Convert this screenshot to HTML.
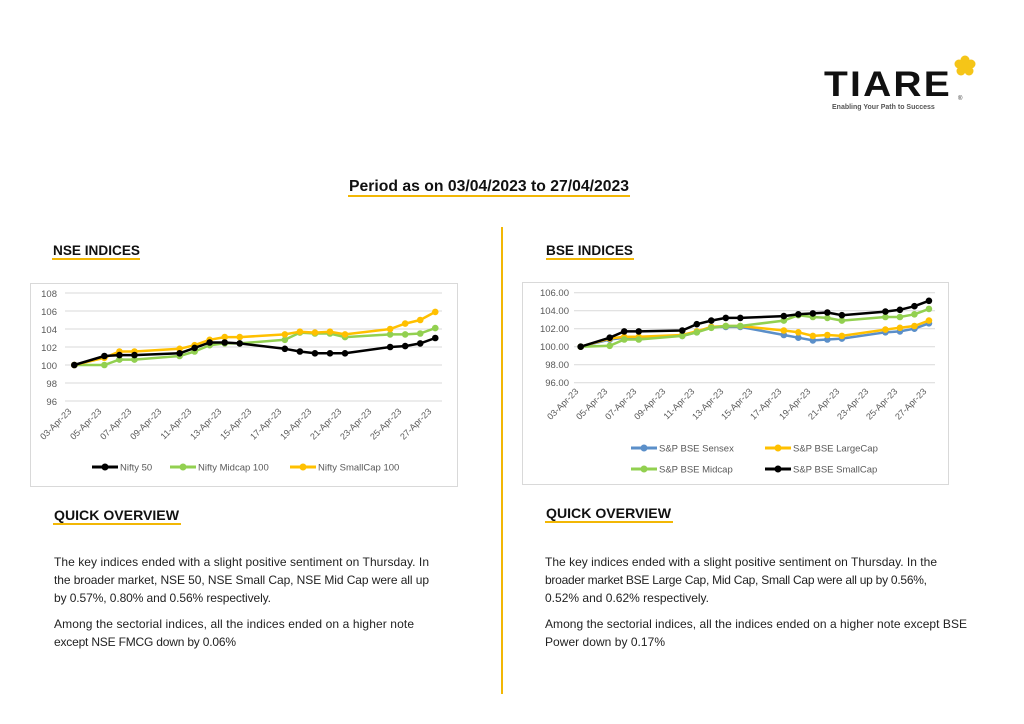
<!DOCTYPE html>
<html><head><meta charset="utf-8"><style>
body{margin:0;background:#fff;}
svg{display:block;font-family:"Liberation Sans",sans-serif;}
</style></head><body>
<svg id="s" width="1024" height="724" viewBox="0 0 1024 724">
<rect width="1024" height="724" fill="#fff"/>
<text x="824" y="96" font-size="35" font-weight="bold" letter-spacing="2" fill="#111" textLength="128" lengthAdjust="spacingAndGlyphs">TIARE</text>
<g fill="#f5c518" transform="translate(965,66)">
<circle cx="0" cy="-6" r="4.5"/><circle cx="6" cy="-2" r="4.5"/><circle cx="4" cy="5" r="4.5"/><circle cx="-4" cy="5" r="4.5"/><circle cx="-6" cy="-2" r="4.5"/><circle cx="0" cy="0" r="4"/></g>
<text x="958" y="100" font-size="6" fill="#333">®</text>
<text x="832" y="109" font-size="7" font-weight="bold" fill="#555">Enabling Your Path to Success</text>
<text x="349" y="191" font-size="15.5" font-weight="bold" fill="#111" textLength="280" lengthAdjust="spacingAndGlyphs">Period as on 03/04/2023 to 27/04/2023</text>
<rect x="348" y="195" width="282" height="2" fill="#f2b705"/>
<text x="53" y="255" font-size="14" font-weight="bold" fill="#111" textLength="87" lengthAdjust="spacingAndGlyphs">NSE INDICES</text>
<rect x="52" y="258" width="88" height="2" fill="#f2b705"/>
<text x="546" y="255" font-size="14" font-weight="bold" fill="#111" textLength="87" lengthAdjust="spacingAndGlyphs">BSE INDICES</text>
<rect x="546" y="258" width="88" height="2" fill="#f2b705"/>
<rect x="501" y="227" width="2" height="467" fill="#f2b705"/>
<rect x="30.5" y="283.5" width="427" height="203" fill="#fff" stroke="#d9d9d9"/>
<rect x="522.5" y="282.5" width="426" height="202" fill="#fff" stroke="#d9d9d9"/>
<g id="g1"></g><g id="g2"></g>
<g font-size="9.5" fill="#595959" text-anchor="end">
<text x="57" y="297">108</text><text x="57" y="315">106</text><text x="57" y="333">104</text><text x="57" y="351">102</text><text x="57" y="369">100</text><text x="57" y="387">98</text><text x="57" y="405">96</text>
<text x="569" y="296">106.00</text><text x="569" y="314">104.00</text><text x="569" y="332">102.00</text><text x="569" y="350">100.00</text><text x="569" y="368">98.00</text><text x="569" y="386">96.00</text>
</g>
<g font-size="9" fill="#595959" text-anchor="end">
<text transform="translate(72,412) rotate(-45)">03-Apr-23</text>
<text transform="translate(102,412) rotate(-45)">05-Apr-23</text>
<text transform="translate(132,412) rotate(-45)">07-Apr-23</text>
<text transform="translate(162,412) rotate(-45)">09-Apr-23</text>
<text transform="translate(192,412) rotate(-45)">11-Apr-23</text>
<text transform="translate(222,412) rotate(-45)">13-Apr-23</text>
<text transform="translate(252,412) rotate(-45)">15-Apr-23</text>
<text transform="translate(282,412) rotate(-45)">17-Apr-23</text>
<text transform="translate(312,412) rotate(-45)">19-Apr-23</text>
<text transform="translate(342,412) rotate(-45)">21-Apr-23</text>
<text transform="translate(372,412) rotate(-45)">23-Apr-23</text>
<text transform="translate(402,412) rotate(-45)">25-Apr-23</text>
<text transform="translate(432,412) rotate(-45)">27-Apr-23</text>
<text transform="translate(579,392) rotate(-45)">03-Apr-23</text>
<text transform="translate(608,392) rotate(-45)">05-Apr-23</text>
<text transform="translate(637,392) rotate(-45)">07-Apr-23</text>
<text transform="translate(666,392) rotate(-45)">09-Apr-23</text>
<text transform="translate(695,392) rotate(-45)">11-Apr-23</text>
<text transform="translate(724,392) rotate(-45)">13-Apr-23</text>
<text transform="translate(753,392) rotate(-45)">15-Apr-23</text>
<text transform="translate(782,392) rotate(-45)">17-Apr-23</text>
<text transform="translate(811,392) rotate(-45)">19-Apr-23</text>
<text transform="translate(840,392) rotate(-45)">21-Apr-23</text>
<text transform="translate(869,392) rotate(-45)">23-Apr-23</text>
<text transform="translate(898,392) rotate(-45)">25-Apr-23</text>
<text transform="translate(927,392) rotate(-45)">27-Apr-23</text>
</g>
<g font-size="9.5" fill="#595959">
<line x1="92" y1="467" x2="118" y2="467" stroke="#000" stroke-width="3"/><circle cx="105" cy="467" r="3.5" fill="#000"/><text x="120" y="470.5">Nifty 50</text>
<line x1="170" y1="467" x2="196" y2="467" stroke="#92d050" stroke-width="3"/><circle cx="183" cy="467" r="3.5" fill="#92d050"/><text x="198" y="470.5">Nifty Midcap 100</text>
<line x1="290" y1="467" x2="316" y2="467" stroke="#ffc000" stroke-width="3"/><circle cx="303" cy="467" r="3.5" fill="#ffc000"/><text x="318" y="470.5">Nifty SmallCap 100</text>
<line x1="631" y1="448" x2="657" y2="448" stroke="#5b8fc9" stroke-width="3"/><circle cx="644" cy="448" r="3.5" fill="#5b8fc9"/><text x="659" y="451.5">S&amp;P BSE Sensex</text>
<line x1="765" y1="448" x2="791" y2="448" stroke="#ffc000" stroke-width="3"/><circle cx="778" cy="448" r="3.5" fill="#ffc000"/><text x="793" y="451.5">S&amp;P BSE LargeCap</text>
<line x1="631" y1="469" x2="657" y2="469" stroke="#92d050" stroke-width="3"/><circle cx="644" cy="469" r="3.5" fill="#92d050"/><text x="659" y="472.5">S&amp;P BSE Midcap</text>
<line x1="765" y1="469" x2="791" y2="469" stroke="#000" stroke-width="3"/><circle cx="778" cy="469" r="3.5" fill="#000"/><text x="793" y="472.5">S&amp;P BSE SmallCap</text>
</g>
<text x="54" y="520" font-size="14" font-weight="bold" fill="#111" textLength="125" lengthAdjust="spacingAndGlyphs">QUICK OVERVIEW</text>
<rect x="53" y="523" width="128" height="2" fill="#f2b705"/>
<text x="546" y="518" font-size="14" font-weight="bold" fill="#111" textLength="125" lengthAdjust="spacingAndGlyphs">QUICK OVERVIEW</text>
<rect x="545" y="521" width="128" height="2" fill="#f2b705"/>
<g font-size="12" fill="#222" lengthAdjust="spacingAndGlyphs">
<text x="54" y="566" textLength="375">The key indices ended with a slight positive sentiment on Thursday. In</text>
<text x="54" y="584" textLength="375">the broader market, NSE 50, NSE Small Cap, NSE Mid Cap were all up</text>
<text x="54" y="602" textLength="217">by 0.57%, 0.80% and 0.56% respectively.</text>
<text x="54" y="628" textLength="360">Among the sectorial indices, all the indices ended on a higher note</text>
<text x="54" y="646" textLength="182">except NSE FMCG down by 0.06%</text>
<text x="545" y="566" textLength="392">The key indices ended with a slight positive sentiment on Thursday. In the</text>
<text x="545" y="584" textLength="382">broader market BSE Large Cap, Mid Cap, Small Cap were all up by 0.56%,</text>
<text x="545" y="602" textLength="164">0.52% and 0.62% respectively.</text>
<text x="545" y="628" textLength="422">Among the sectorial indices, all the indices ended on a higher note except BSE</text>
<text x="545" y="646" textLength="120">Power down by 0.17%</text>
</g>
</svg>
<script>
var NS="http://www.w3.org/2000/svg";
function el(p,t,a){var e=document.createElementNS(NS,t);for(var k in a)e.setAttribute(k,a[k]);p.appendChild(e);return e;}
var days=[3,5,6,7,10,11,12,13,14,17,18,19,20,21,24,25,26,27];
function chart(g,x0,dx,y100,gx1,gx2,gmin,gmax,step,series){
 for(var v=gmin;v<=gmax;v+=step){var y=y100-9*(v-100);el(g,'line',{x1:gx1,x2:gx2,y1:y,y2:y,stroke:'#d9d9d9','stroke-width':1});}
 series.forEach(function(s){
  var pts=s.d.map(function(v,i){return [x0+dx*(days[i]-3),y100-9*(v-100)];});
  el(g,'polyline',{points:pts.map(function(p){return p.join(',')}).join(' '),fill:'none',stroke:s.c,'stroke-width':2.5,'stroke-linejoin':'round'});
  pts.forEach(function(p){el(g,'circle',{cx:p[0],cy:p[1],r:3.3,fill:s.c});});
 });
}
chart(document.getElementById('g1'),74.3,15.04,365,65,442,96,108,2,[
 {c:'#92d050',d:[100,100,100.6,100.6,101,101.5,102.2,102.4,102.4,102.8,103.6,103.5,103.5,103.1,103.4,103.4,103.5,104.1]},
 {c:'#ffc000',d:[100,100.8,101.5,101.5,101.8,102.2,102.8,103.1,103.1,103.4,103.7,103.6,103.7,103.4,104,104.6,105,105.9]},
 {c:'#000',d:[100,101,101.1,101.1,101.3,101.9,102.5,102.5,102.4,101.8,101.5,101.3,101.3,101.3,102,102.1,102.4,103]}
]);
chart(document.getElementById('g2'),580.7,14.51,346.7,574,935,96,106,2,[
 {c:'#5b8fc9',d:[100,100.8,101,101,101.2,101.6,102.2,102.2,102.2,101.3,101,100.7,100.8,100.9,101.6,101.7,102,102.6]},
 {c:'#ffc000',d:[100,100.9,101.1,101.1,101.3,101.7,102.2,102.3,102.3,101.8,101.6,101.2,101.3,101.2,101.9,102.1,102.3,102.9]},
 {c:'#92d050',d:[100,100.1,100.8,100.8,101.2,101.6,102.1,102.3,102.3,102.9,103.5,103.3,103.2,102.9,103.3,103.3,103.6,104.2]},
 {c:'#000',d:[100,101,101.7,101.7,101.8,102.5,102.9,103.2,103.2,103.4,103.6,103.7,103.8,103.5,103.9,104.1,104.5,105.1]}
]);
</script>
</body></html>
